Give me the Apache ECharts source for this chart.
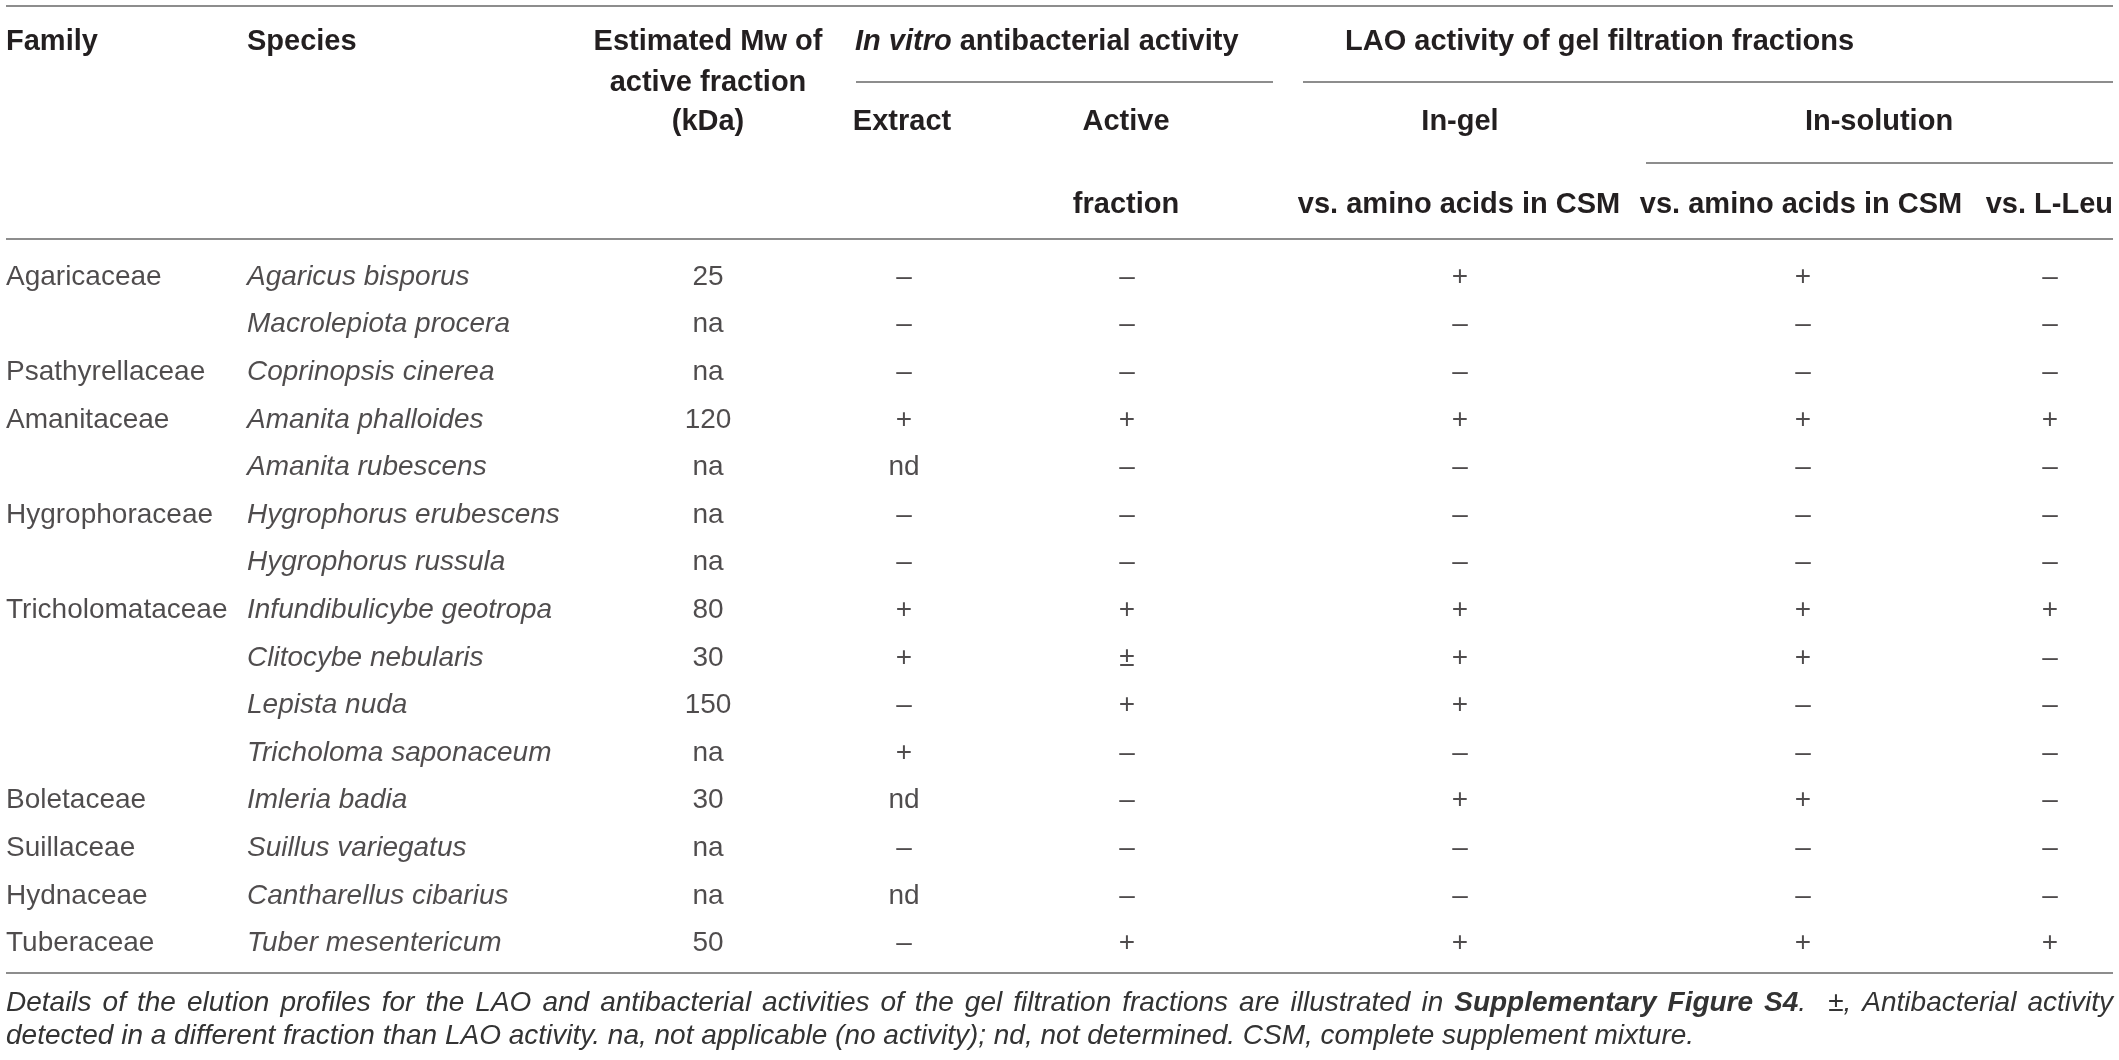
<!DOCTYPE html>
<html>
<head>
<meta charset="utf-8">
<script src="https://cdn.jsdelivr.net/npm/echarts@6/dist/echarts.min.js"></script>
<style>
html,body{margin:0;padding:0;background:#fff;}
#main{width:2119px;height:1060px;}
</style>
</head>
<body>
<div id="main"></div>
<script>
// ---- table data ----
const families = ['Agaricaceae','','Psathyrellaceae','Amanitaceae','','Hygrophoraceae','','Tricholomataceae','','','','Boletaceae','Suillaceae','Hydnaceae','Tuberaceae'];
const species = ['Agaricus bisporus','Macrolepiota procera','Coprinopsis cinerea','Amanita phalloides','Amanita rubescens','Hygrophorus erubescens','Hygrophorus russula','Infundibulicybe geotropa','Clitocybe nebularis','Lepista nuda','Tricholoma saponaceum','Imleria badia','Suillus variegatus','Cantharellus cibarius','Tuber mesentericum'];
const mwKDa = ['25','na','na','120','na','na','na','80','30','150','na','30','na','na','50'];
const extractActivity = ['–','–','–','+','nd','–','–','+','+','–','+','nd','–','nd','–'];
const activeFractionActivity = ['–','–','–','+','–','–','–','+','±','+','–','–','–','–','+'];
const inGelVsCSM = ['+','–','–','+','–','–','–','+','+','+','–','+','–','–','+'];
const inSolutionVsCSM = ['+','–','–','+','–','–','–','+','+','–','–','+','–','–','+'];
const inSolutionVsLeu = ['–','–','–','+','–','–','–','+','–','–','–','–','–','–','+'];

// footnote (first line is justified; bold words marked)
const footnoteLine1Words = 'Details of the elution profiles for the LAO and antibacterial activities of the gel filtration fractions are illustrated in'.split(' ');
const footnoteBoldWords = ['Supplementary', 'Figure', 'S4'];
const footnoteLine1Tail = '±, Antibacterial activity'.split(' ');
const footnoteLine2 = 'detected in a different fraction than LAO activity. na, not applicable (no activity); nd, not determined. CSM, complete supplement mixture.';

// ---- layout / style ----
const FONT = "'Liberation Sans', Arial, Helvetica, sans-serif";
const TEXT = '#231f20';
const NOTE = '#333333';
const RULE = '#8d8d8d';
const W = 2119;
const L = 6, R = 2113;

const columns = [
  {vals: families, x: 6, align: 'left', italic: false},
  {vals: species, x: 247, align: 'left', italic: true},
  {vals: mwKDa, x: 708, align: 'center'},
  {vals: extractActivity, x: 904, align: 'center'},
  {vals: activeFractionActivity, x: 1127, align: 'center'},
  {vals: inGelVsCSM, x: 1460, align: 'center'},
  {vals: inSolutionVsCSM, x: 1803, align: 'center'},
  {vals: inSolutionVsLeu, x: 2050, align: 'center'}
];

const series = columns.map(col => ({
  type: 'scatter',
  symbolSize: 1,
  itemStyle: {color: 'rgba(0,0,0,0)'},
  silent: true,
  data: species.map(s => [col.x, s]),
  label: {
    show: true,
    position: 'inside',
    align: col.align,
    verticalAlign: 'middle',
    fontFamily: FONT,
    fontSize: 28,
    fontStyle: col.italic ? 'italic' : 'normal',
    color: TEXT,
    formatter: p => col.vals[p.dataIndex]
  }
}));

function hText(text, x, y, align) {
  return {
    type: 'text', x: x, y: y, silent: true,
    style: {text: text, fontFamily: FONT, fontSize: 29, fontWeight: 'bold', fill: TEXT, align: align, verticalAlign: 'middle'}
  };
}
function rule(x1, x2, y) {
  return {type: 'line', silent: true, shape: {x1: x1, y1: y, x2: x2, y2: y}, style: {stroke: RULE, lineWidth: 2}};
}

// justified footnote line 1
const NOTE_SIZE = 28;
const ctx = document.createElement('canvas').getContext('2d');
function measure(t, bold) {
  ctx.font = 'italic ' + (bold ? 'bold ' : '') + NOTE_SIZE + 'px ' + FONT;
  return ctx.measureText(t).width;
}
const noteWords = [];
footnoteLine1Words.forEach(w => noteWords.push({text: w, w: measure(w, false), gaps: 1}));
footnoteBoldWords.forEach((w, i) => {
  const last = i === footnoteBoldWords.length - 1;
  noteWords.push({text: '{b|' + w + '}' + (last ? '.' : ''), w: measure(w, true) + (last ? measure('.', false) : 0), gaps: last ? 2 : 1});
});
footnoteLine1Tail.forEach(w => noteWords.push({text: w, w: measure(w, false), gaps: 1}));
const totalW = noteWords.reduce((s, o) => s + o.w, 0);
const totalGaps = noteWords.slice(0, -1).reduce((s, o) => s + o.gaps, 0);
const gap = (R - L - totalW) / totalGaps;
const noteGraphics = [];
let cx = L;
noteWords.forEach(o => {
  noteGraphics.push({
    type: 'text', x: cx, y: 1003, silent: true,
    style: {
      text: o.text, fontFamily: FONT, fontSize: NOTE_SIZE, fontStyle: 'italic', fill: NOTE, align: 'left', verticalAlign: 'middle',
      rich: {b: {fontFamily: FONT, fontSize: NOTE_SIZE, fontStyle: 'italic', fontWeight: 'bold', fill: NOTE}}
    }
  });
  cx += o.w + gap * o.gaps;
});

const graphics = [
  rule(L, R, 6),
  rule(856, 1273, 82),
  rule(1303, R, 82),
  rule(1646, R, 163),
  rule(L, R, 239),
  rule(L, R, 973),
  hText('Family', 6, 42, 'left'),
  hText('Species', 247, 42, 'left'),
  hText('Estimated Mw of', 708, 42, 'center'),
  hText('active fraction', 708, 83, 'center'),
  hText('(kDa)', 708, 122, 'center'),
  {
    type: 'text', x: 855, y: 42, silent: true,
    style: {
      text: '{i|In vitro} antibacterial activity',
      fontFamily: FONT, fontSize: 29, fontWeight: 'bold', fill: TEXT, align: 'left', verticalAlign: 'middle',
      rich: {i: {fontFamily: FONT, fontSize: 29, fontWeight: 'bold', fontStyle: 'italic', fill: TEXT}}
    }
  },
  hText('LAO activity of gel filtration fractions', 1345, 42, 'left'),
  hText('Extract', 902, 122, 'center'),
  hText('Active', 1126, 122, 'center'),
  hText('fraction', 1126, 205, 'center'),
  hText('In-gel', 1460, 122, 'center'),
  hText('In-solution', 1879, 122, 'center'),
  hText('vs. amino acids in CSM', 1459, 205, 'center'),
  hText('vs. amino acids in CSM', 1801, 205, 'center'),
  hText('vs. L-Leu', R, 205, 'right'),
  {
    type: 'text', x: L, y: 1036, silent: true,
    style: {text: footnoteLine2, fontFamily: FONT, fontSize: NOTE_SIZE, fontStyle: 'italic', fill: NOTE, align: 'left', verticalAlign: 'middle'}
  }
].concat(noteGraphics);

const chart = echarts.init(document.getElementById('main'), null, {renderer: 'canvas'});
chart.setOption({
  backgroundColor: '#fff',
  animation: false,
  grid: {left: 0, width: W, top: 253.2, height: 714},
  xAxis: {type: 'value', min: 0, max: W, show: false},
  yAxis: {type: 'category', data: species, inverse: true, show: false, boundaryGap: true},
  series: series,
  graphic: graphics
});
</script>
</body>
</html>
